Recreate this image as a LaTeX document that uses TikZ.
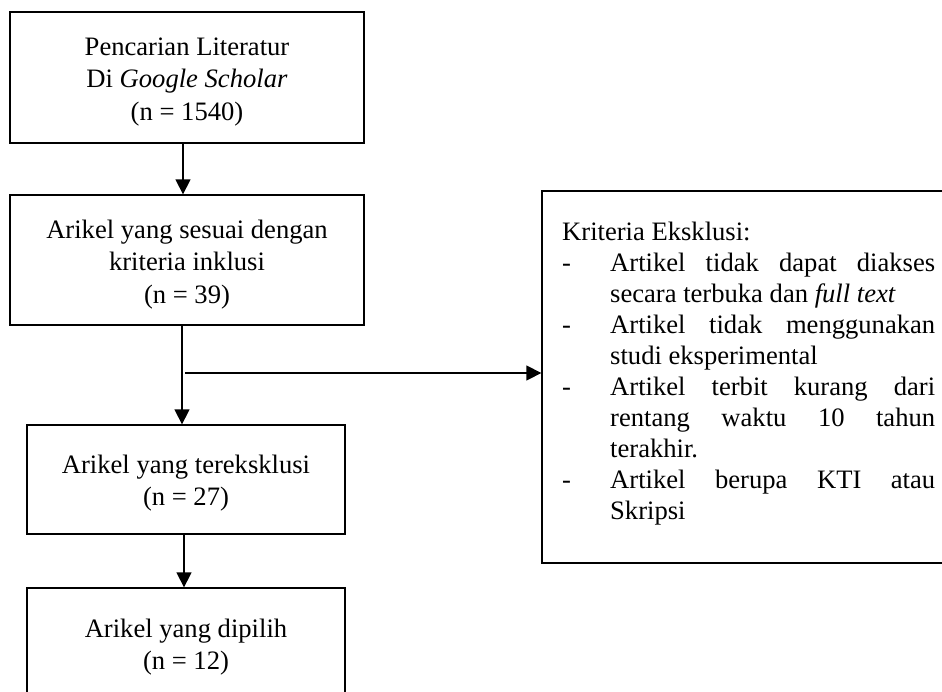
\documentclass[tikz,border=0pt]{standalone}
\usepackage{fontspec}
\setmainfont{Liberation Serif}
\usetikzlibrary{arrows.meta}
\begin{document}
\begin{tikzpicture}[x=1pt,y=-1pt,
  box/.style={draw,line width=1.3pt,inner sep=0pt},
  txt/.style={anchor=base,inner sep=0pt,text width=340pt,align=flush center,
    font=\fontsize{26.6}{32.5}\selectfont},
  arr/.style={line width=1.3pt,-{Triangle[width=15pt,length=15pt]}},
  ln/.style={line width=1.3pt}]
\useasboundingbox (0,0) rectangle (942,691);
\clip (0,0) rectangle (942,691);
\node[box,minimum width=354pt,minimum height=131pt] (b1) at (187,77.5) {};
\node[txt] (t1) at (187,55) {Pencarian Literatur\\Di \textit{Google Scholar}\\(n = 1540)};
\node[box,minimum width=354pt,minimum height=130pt] (b2) at (187,260) {};
\node[txt] (t2) at (187,238) {Arikel yang sesuai dengan\\kriteria inklusi\\(n = 39)};
\node[box,minimum width=318pt,minimum height=109pt] (b3) at (186,479.5) {};
\node[txt] (t3) at (186,473) {Arikel yang tereksklusi\\(n = 27)};
\node[box,minimum width=318pt,minimum height=112pt] (b4) at (186,644) {};
\node[txt] (t4) at (186,637) {Arikel yang dipilih\\(n = 12)};
\node[box,minimum width=408pt,minimum height=372pt] (rb) at (746,377) {};
\node[anchor=base west,inner sep=0pt,text width=373pt,align=justify,
  font=\fontsize{26.6}{31}\selectfont] (rt) at (562,240)
  {\hyphenpenalty=10000 \tolerance=10000 \emergencystretch=20pt
   Kriteria Eksklusi:\par
   \hangindent=48pt\hangafter=1\noindent\makebox[48pt][l]{-}Artikel tidak dapat diakses\linebreak secara terbuka dan \textit{full text}\par
   \hangindent=48pt\hangafter=1\noindent\makebox[48pt][l]{-}Artikel tidak menggunakan\linebreak studi eksperimental\par
   \hangindent=48pt\hangafter=1\noindent\makebox[48pt][l]{-}Artikel terbit kurang dari\linebreak rentang waktu 10 tahun\linebreak terakhir.\par
   \hangindent=48pt\hangafter=1\noindent\makebox[48pt][l]{-}Artikel berupa KTI atau\linebreak Skripsi\par};
\coordinate (jn) at (185,373);
\draw[arr] ([xshift=-4pt]b1.south) -- ([xshift=-4pt]b2.north);
\draw[arr] ([xshift=-5pt]b2.south) -- ([xshift=-4pt]b3.north);
\draw[ln,-{Triangle[width=15pt,length=15pt]}] (jn) -- (jn -| rb.west);
\draw[arr] ([xshift=-2pt]b3.south) -- ([xshift=-2pt]b4.north);
\end{tikzpicture}
\end{document}
